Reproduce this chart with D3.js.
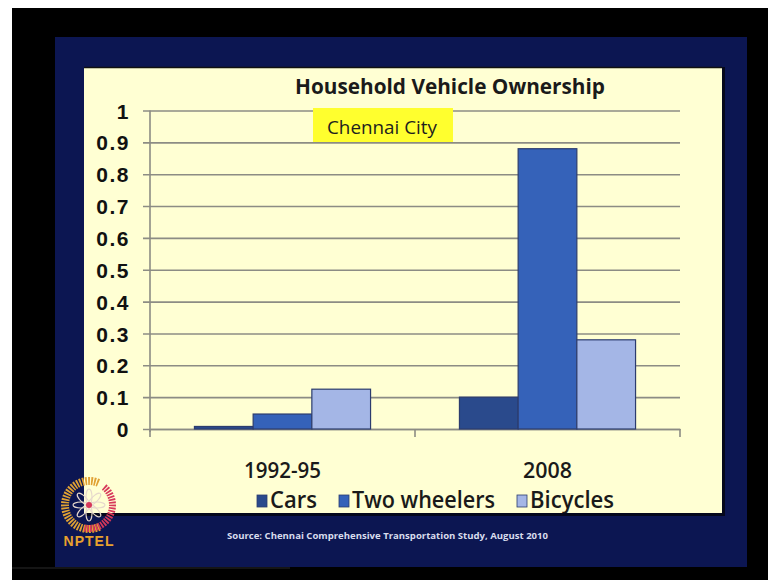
<!DOCTYPE html>
<html>
<head>
<meta charset="utf-8">
<script src="https://cdn.jsdelivr.net/npm/d3@7"></script>
<style>
  html, body { margin: 0; padding: 0; background: #000; }
  svg { display: block; }
</style>
</head>
<body>
<svg id="chart" width="768" height="580"></svg>
<script>
// Household vehicle ownership, Chennai City
const periods = ["1992-95", "2008"];
const series = ["Cars", "Two wheelers", "Bicycles"];
const cars = [0.008, 0.10];
const twoWheelers = [0.047, 0.88];
const bicycles = [0.125, 0.28];
const yTicks = [0, 0.1, 0.2, 0.3, 0.4, 0.5, 0.6, 0.7, 0.8, 0.9, 1];
const titleText = "Household Vehicle Ownership";
const subtitleText = "Chennai City";
const sourceText = "Source: Chennai Comprehensive Transportation Study,  August 2010";

const values = { "Cars": cars, "Two wheelers": twoWheelers, "Bicycles": bicycles };
const colors = { "Cars": "#2a4a8c", "Two wheelers": "#3562b9", "Bicycles": "#a4b6e6" };
const fontNarrow = "'Liberation Sans Narrow', 'Open Sans', 'Liberation Sans', sans-serif";

const svg = d3.select("#chart");

// slide frame: black backdrop, white edge, navy slide, pale-yellow chart area
svg.append("rect").attr("width", 768).attr("height", 580).attr("fill", "#000");
svg.append("rect").attr("width", 768).attr("height", 8).attr("fill", "#fff");
svg.append("rect").attr("width", 12).attr("height", 580).attr("fill", "#fff");
svg.append("rect").attr("x", 55).attr("y", 37).attr("width", 692).attr("height", 530).attr("fill", "#0c1652");

// drop shadow for the chart area
svg.append("rect").attr("x", 86).attr("y", 67).attr("width", 639).attr("height", 449).attr("fill", "#05081c");
svg.append("rect").attr("x", 84).attr("y", 67).attr("width", 638).attr("height", 446).attr("fill", "#ffffd3");
svg.append("line").attr("x1", 84).attr("x2", 722).attr("y1", 67.5).attr("y2", 67.5)
  .attr("stroke", "#111").attr("stroke-width", 1.5);

const defs = svg.append("defs");
defs.append("clipPath").attr("id", "panelClip")
  .append("rect").attr("x", 84).attr("y", 68).attr("width", 638).attr("height", 445);

const panel = svg.append("g").attr("clip-path", "url(#panelClip)");

// scales
const plotLeft = 150, plotRight = 680, plotTop = 110.5, plotBottom = 429;
const y = d3.scaleLinear().domain([0, 1]).range([plotBottom, plotTop]);
const x0 = d3.scaleBand().domain(periods).range([plotLeft, plotRight]).padding(0);
const x1 = d3.scaleBand().domain(series).range([0, x0.bandwidth()]).paddingInner(0).paddingOuter(0.757);

// horizontal gridlines with short outer ticks
const yAxis = d3.axisLeft(y).tickValues(yTicks).tickSize(-(plotRight - plotLeft + 7)).tickPadding(12)
  .tickFormat(d => d === 0 || d === 1 ? d3.format("d")(d) : d3.format(".1f")(d));
const gy = panel.append("g").attr("transform", `translate(${plotLeft - 7},0)`).call(yAxis);
gy.select(".domain").remove();
gy.selectAll(".tick line").attr("stroke", "#8c8c84").attr("stroke-width", 1.6);
gy.selectAll(".tick text")
  .attr("x", -13)
  .attr("dy", "0.36em")
  .attr("fill", "#111")
  .attr("font-family", "'Liberation Sans', Arial, sans-serif")
  .attr("font-weight", "bold")
  .attr("font-size", 21)
  .attr("letter-spacing", 1.5);

// vertical axis line
panel.append("line").attr("x1", plotLeft).attr("x2", plotLeft).attr("y1", plotTop).attr("y2", plotBottom + 3)
  .attr("stroke", "#8c8c84").attr("stroke-width", 1.6);

// category axis
const xAxis = d3.axisBottom(x0).tickSize(0).tickFormat("");
const gx = panel.append("g").attr("transform", `translate(0,${plotBottom})`).call(xAxis);
gx.select(".domain").attr("stroke", "#8c8c84").attr("stroke-width", 1.6);
const boundaries = [plotLeft].concat(periods.map(p => x0(p) + x0.bandwidth()));
panel.append("g").selectAll("line").data(boundaries).join("line")
  .attr("x1", d => d).attr("x2", d => d)
  .attr("y1", plotBottom).attr("y2", plotBottom + 8)
  .attr("stroke", "#8c8c84").attr("stroke-width", 1.6);

// bars
const groups = panel.append("g").selectAll("g").data(periods).join("g")
  .attr("transform", p => `translate(${x0(p)},0)`);
groups.selectAll("rect")
  .data((p, i) => series.map(s => ({ s, v: values[s][i] })))
  .join("rect")
  .attr("x", d => x1(d.s))
  .attr("width", x1.bandwidth())
  .attr("y", d => y(d.v))
  .attr("height", d => y(0) - y(d.v))
  .attr("fill", d => colors[d.s])
  .attr("stroke", "#2c3c6e")
  .attr("stroke-width", 1.2);

// category labels
panel.append("g").selectAll("text").data(periods).join("text")
  .attr("x", p => x0(p) + x0.bandwidth() / 2)
  .attr("y", 478)
  .attr("text-anchor", "middle")
  .attr("font-family", fontNarrow)
  .attr("font-weight", 600)
  .attr("font-size", 22)
  .attr("fill", "#1a1a1a")
  .attr("textLength", p => p.length === 7 ? 77 : 49)
  .attr("lengthAdjust", "spacingAndGlyphs")
  .text(p => p);

// title
panel.append("text")
  .attr("x", 450).attr("y", 94)
  .attr("text-anchor", "middle")
  .attr("font-family", fontNarrow)
  .attr("font-weight", "bold")
  .attr("font-size", 21)
  .attr("fill", "#1a1a1a")
  .attr("textLength", 310)
  .attr("lengthAdjust", "spacingAndGlyphs")
  .text(titleText);

// highlighted city label
panel.append("rect").attr("x", 313).attr("y", 108).attr("width", 140).attr("height", 34).attr("fill", "#ffff2e");
panel.append("text")
  .attr("x", 382).attr("y", 134)
  .attr("text-anchor", "middle")
  .attr("font-family", fontNarrow)
  .attr("font-size", 19)
  .attr("fill", "#1e1e1e")
  .attr("textLength", 110)
  .attr("lengthAdjust", "spacingAndGlyphs")
  .text(subtitleText);

// legend
const legendLayout = { "Cars": [257, 47], "Two wheelers": [339, 143], "Bicycles": [517, 84] };
const legend = panel.append("g").selectAll("g").data(series).join("g")
  .attr("transform", s => `translate(${legendLayout[s][0]},0)`);
legend.append("rect")
  .attr("x", 0).attr("y", 495).attr("width", 10).attr("height", 12)
  .attr("fill", s => colors[s]).attr("stroke", "#2c3c6e").attr("stroke-width", 0.8);
legend.append("text")
  .attr("x", 13).attr("y", 508)
  .attr("font-family", fontNarrow)
  .attr("font-weight", 600)
  .attr("font-size", 24)
  .attr("fill", "#1a1a1a")
  .attr("textLength", s => legendLayout[s][1])
  .attr("lengthAdjust", "spacingAndGlyphs")
  .text(s => s);

// source note
svg.append("text")
  .attr("x", 227).attr("y", 539)
  .attr("font-family", fontNarrow)
  .attr("font-weight", "bold")
  .attr("font-size", 9.5)
  .attr("fill", "#d8dcec")
  .attr("textLength", 321)
  .attr("lengthAdjust", "spacingAndGlyphs")
  .text(sourceText);

// NPTEL emblem: striped gold and red crescents around an eight-petal flower
const logo = svg.append("g").attr("transform", "translate(89,505)");
const arc = d3.arc();
const deg = Math.PI / 180;
const stripes = (from, to, step) => d3.range(from, to, step);
logo.selectAll("path.gold").data(stripes(-205, 20, 7)).join("path")
  .attr("class", "gold")
  .attr("d", a => arc({ innerRadius: 20, outerRadius: 28, startAngle: a * deg, endAngle: (a + 4.2) * deg }))
  .attr("fill", "#e0a133");
logo.selectAll("path.red").data(stripes(40, 190, 7)).join("path")
  .attr("class", "red")
  .attr("d", a => arc({ innerRadius: 20, outerRadius: 27, startAngle: a * deg, endAngle: (a + 4.2) * deg }))
  .attr("fill", "#d7385a");
logo.selectAll("ellipse").data(d3.range(0, 8)).join("ellipse")
  .attr("cx", 0).attr("cy", -8).attr("rx", 3).attr("ry", 8)
  .attr("fill", "none").attr("stroke", "#e6d8cc").attr("stroke-width", 1.1)
  .attr("transform", i => `rotate(${i * 45})`);
logo.append("circle").attr("r", 3).attr("fill", "#d7385a");
svg.append("text")
  .attr("x", 89).attr("y", 546)
  .attr("text-anchor", "middle")
  .attr("font-family", "'Liberation Sans', Arial, sans-serif")
  .attr("font-weight", "bold")
  .attr("font-size", 14)
  .attr("fill", "#e8a12e")
  .attr("letter-spacing", 1)
  .text("NPTEL");

// bottom edge of the frame
svg.append("line").attr("x1", 12).attr("x2", 290).attr("y1", 568).attr("y2", 568)
  .attr("stroke", "#2a2a2a").attr("stroke-width", 1);
</script>
</body>
</html>
